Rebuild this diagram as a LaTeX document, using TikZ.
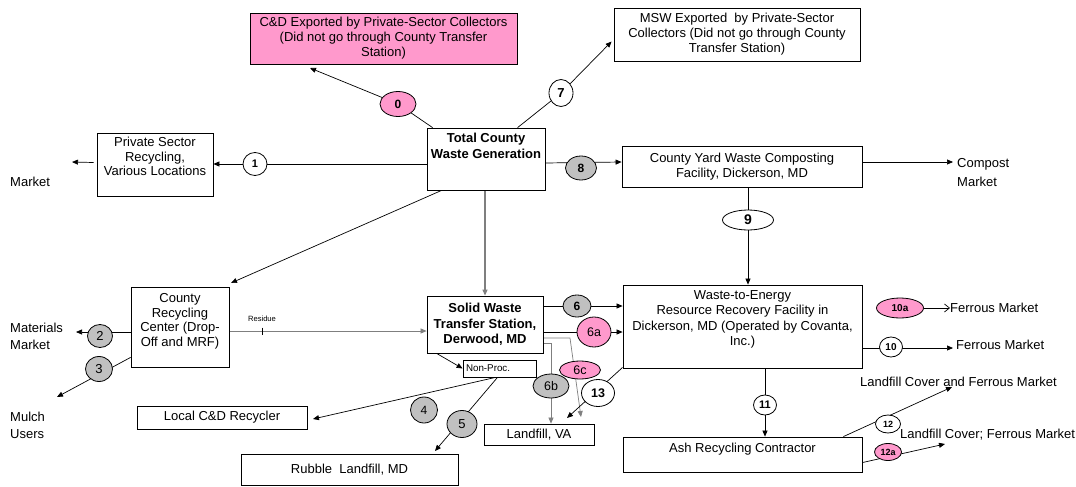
\documentclass[tikz,border=0pt]{standalone}
\usepackage{fontspec}
\setmainfont{Liberation Sans}
\usetikzlibrary{arrows.meta,calc,shapes.geometric}
\pgfdeclarelayer{bg}
\pgfsetlayers{bg,main}
\definecolor{pinkf}{HTML}{FF99CC}
\definecolor{grayf}{HTML}{C0C0C0}
\definecolor{lineg}{HTML}{7F7F7F}
\begin{document}
\begin{tikzpicture}[x=1pt,y=-1pt,
  every node/.style={font=\fontsize{13}{15}\selectfont},
  box/.style={draw,line width=0.8pt,fill=white,inner sep=0pt,align=center},
  txt/.style={inner sep=0pt,align=center},
  ltxt/.style={inner sep=0pt,align=left},
  num/.style={ellipse,draw,line width=0.8pt,fill=white,inner sep=0pt},
  arr/.style={line width=0.7pt,-{Triangle[length=6pt,width=5pt]}},
  ln/.style={line width=0.7pt},
  barb/.style={line width=0.7pt,-{Straight Barb[length=5pt,width=8pt]}},
]
\useasboundingbox (0,0) rectangle (1076,487);

% ---------- boxes ----------
\node[box,fill=pinkf,minimum width=267,minimum height=51] (cd) at (383.5,38.5)
  {C\&D Exported by Private-Sector Collectors\\(Did not go through County Transfer\\Station)};
\node[box,minimum width=246,minimum height=53] (msw) at (737,34.5)
  {MSW Exported\ \ by Private-Sector\\Collectors (Did not go through County\\Transfer Station)};
\node[box,minimum width=118,minimum height=62] (tot) at (486,159) {};
\node[txt,anchor=north,font=\bfseries\fontsize{13}{16}\selectfont] (tott) at ($(tot.north)+(0,5)$)
  {Total County\\Waste Generation};
\node[box,minimum width=116,minimum height=63] (psr) at (155,164.5) {};
\node[txt,anchor=north,font=\fontsize{13}{14.5}\selectfont] (psrt) at ($(psr.north)+(0,4.5)$)
  {Private Sector\\Recycling,\\Various Locations};
\node[box,minimum width=240,minimum height=41] (yard) at (742,166.5)
  {County Yard Waste Composting\\Facility, Dickerson, MD};
\node[box,minimum width=98,minimum height=80] (crc) at (180,327) {};
\node[txt,anchor=north,font=\fontsize{13}{14.7}\selectfont] (crct) at ($(crc.north)+(0,6.5)$)
  {County\\Recycling\\Center (Drop-\\Off and MRF)};
\node[box,minimum width=116,minimum height=57,font=\bfseries\fontsize{13}{15.5}\selectfont] (sw) at (485,324.5)
  {Solid Waste\\Transfer Station,\\Derwood, MD};
\node[box,minimum width=73,minimum height=17,text width=67,align=left,font=\fontsize{9.8}{11}\selectfont] (np) at (499.5,368.5)
  {Non-Proc.};
\node[box,minimum width=170,minimum height=23] (lcd) at (222,417.5) {Local C\&D Recycler};
\node[box,minimum width=217,minimum height=31] (rub) at (349.5,469.5) {Rubble\ \ Landfill, MD};
\node[box,minimum width=110,minimum height=21] (lva) at (539,434.5) {Landfill, VA};
\node[box,minimum width=239,minimum height=83] (wte) at (742.5,326.5) {};
\node[txt,anchor=north,font=\fontsize{13}{15.5}\selectfont] (wtet) at ($(wte.north)+(0,5.5)$)
  {Waste-to-Energy\\Resource Recovery Facility in\\Dickerson, MD (Operated by Covanta,\\Inc.)};
\node[box,minimum width=239,minimum height=35] (ash) at (742.5,454.5) {};
\node[txt,anchor=north] (asht) at ($(ash.north)+(0,6.5)$) {Ash Recycling Contractor};

% ---------- free texts ----------
\node[ltxt,anchor=west] (mk1) at (10,182) {Market};
\node[ltxt,anchor=west,font=\fontsize{13}{17}\selectfont] (mm) at (10,336) {Materials\\Market};
\node[ltxt,anchor=west,font=\fontsize{13}{17}\selectfont] (mu) at (10,425.5) {Mulch\\Users};
\node[ltxt,anchor=west,font=\fontsize{13}{19}\selectfont] (cm) at (957,172.5) {Compost\\Market};
\node[ltxt,anchor=west] (f10a) at (950,308) {Ferrous Market};
\node[ltxt,anchor=west] (f10) at (956,345) {Ferrous Market};
\node[ltxt,anchor=west] (lc1) at (860,382) {Landfill Cover and Ferrous Market};
\node[ltxt,anchor=west] (lc2) at (900,435) {Landfill Cover; Ferrous Market};
\node[inner sep=0pt,font=\fontsize{7.6}{8}\selectfont] (resl) at (262,319) {Residue};

% ---------- numbered ellipses ----------
\node[num,fill=pinkf,minimum width=36,minimum height=25,font=\bfseries\fontsize{12}{12}\selectfont] (c0) at (398,104) {0};
\node[num,minimum width=24,minimum height=27,font=\bfseries\fontsize{13}{13}\selectfont] (c7) at (561,93) {7};
\node[num,minimum width=24,minimum height=23,font=\bfseries\fontsize{11}{11}\selectfont] (c1) at (255,164) {1};
\node[num,fill=grayf,minimum width=31,minimum height=24,font=\bfseries\fontsize{12}{12}\selectfont] (c8) at (581,168) {8};
\node[num,minimum width=51,minimum height=20,font=\bfseries\fontsize{14}{14}\selectfont] (c9) at (748,220) {9};
\node[num,fill=grayf,minimum width=25,minimum height=23,font=\fontsize{13}{13}\selectfont] (c2) at (100,336) {2};
\node[num,fill=grayf,minimum width=27,minimum height=25,font=\fontsize{13}{13}\selectfont] (c3) at (99,369) {3};
\node[num,fill=grayf,minimum width=27,minimum height=26,font=\fontsize{12}{12}\selectfont] (c4) at (424,410) {4};
\node[num,fill=grayf,minimum width=30,minimum height=27,font=\fontsize{13}{13}\selectfont] (c5) at (462,424) {5};
\node[num,fill=grayf,minimum width=28,minimum height=22,font=\bfseries\fontsize{12}{12}\selectfont] (c6) at (577,306) {6};
\node[num,fill=pinkf,minimum width=34,minimum height=30,font=\fontsize{12.5}{12.5}\selectfont] (c6a) at (594,332) {6a};
\node[num,fill=grayf,minimum width=36,minimum height=24,font=\fontsize{12.5}{12.5}\selectfont] (c6b) at (551,386) {6b};
\node[num,fill=pinkf,minimum width=41,minimum height=18,font=\fontsize{12.5}{12.5}\selectfont] (c6c) at (580,370) {6c};
\node[num,minimum width=33,minimum height=27,font=\bfseries\fontsize{12.5}{12.5}\selectfont] (c13) at (598,393) {13};
\node[num,fill=pinkf,minimum width=47,minimum height=20,font=\bfseries\fontsize{10}{10}\selectfont] (c10a) at (900,308) {10a};
\node[num,minimum width=23,minimum height=20,font=\bfseries\fontsize{10}{10}\selectfont] (c10) at (891,347) {10};
\node[num,minimum width=23,minimum height=20,font=\bfseries\fontsize{11}{11}\selectfont] (c11) at (765,405) {11};
\node[num,minimum width=25,minimum height=18,font=\bfseries\fontsize{9}{9}\selectfont] (c12) at (888,424) {12};
\node[num,fill=pinkf,minimum width=27,minimum height=17,font=\bfseries\fontsize{9}{9}\selectfont] (c12a) at (888,452) {12a};

% ---------- connectors ----------
\begin{pgfonlayer}{bg}
\fill[white] (0,0) rectangle (1076,487);
\coordinate (e0) at (310,68);
\draw[arr] ($(tot.north west)+(6,0)$) -- (c0) -- (e0);
\coordinate (e7) at ($(msw.west)+(-2,7)$);
\draw[arr] ($(tot.north west)+(91,0)$) -- (c7) -- (e7);
\draw[arr] (tot.west |- c1) -- (c1) -- (psr.east |- c1);
\coordinate (e1m) at (72,162);
\draw[arr] ($(psr.west)+(-3,-2)$) -- (e1m);
\draw[arr] ($(tot.east)+(0,4)$) -- ($(yard.west)+(0,-4.5)$);
\coordinate (ecm) at (953,162);
\draw[arr] (yard.east |- ecm) -- (ecm);
\draw[arr] (c9 |- yard.south) -- (c9) -- (c9 |- wte.north);
\draw[arr,draw=lineg,line width=1.1pt] (sw.north |- tot.south) -- (sw.north);
\coordinate (ecrc) at (231,283);
\draw[arr] ($(tot.south west)+(15,0)$) -- (ecrc);
\coordinate (rt) at (262,331);
\draw[arr,draw=lineg] (crc.east |- rt) -- (sw.west |- rt);
\draw[ln] ($(rt)+(0,-3.5)$) -- ($(rt)+(0,3.5)$);
\coordinate (e2) at (76,332);
\draw[arr] (crc.west |- e2) -- (e2);
\coordinate (e3) at (57,397);
\draw[arr] ($(crc.south west)+(0,-10)$) -- (e3);
\draw[arr] ($(sw.south west)+(10,0)$) -- (np.west);
\coordinate (e4) at (313,419);
\draw[arr] ($(np.south)+(-4,0)$) -- (e4);
\coordinate (e5) at (435,451);
\draw[arr] ($(np.south)+(-2,0)$) -- (e5);
\draw[arr] (sw.east |- c6) -- (c6) -- (wte.west |- c6);
\draw[arr] (sw.east |- c6a) -- (c6a) -- (wte.west |- c6a);
\coordinate (k6b) at (551,343);
\draw[arr,draw=lineg] (sw.east |- k6b) -- (k6b) -- (k6b |- lva.north);
\coordinate (k6c) at (570,338);
\coordinate (e6c) at (581,417);
\draw[arr,draw=lineg] (sw.east |- k6c) -- (k6c) -- (e6c);
\coordinate (e13) at (567,418);
\draw[arr] ($(wte.south west)+(0,-1)$) -- (e13);
\draw[barb] (c10a) -- (f10a.west);
\coordinate (e10) at (953,348);
\draw[arr] (wte.east |- e10) -- (e10);
\draw[arr] (c11 |- wte.south) -- (c11 |- ash.north);
\coordinate (e12) at (952,387);
\draw[arr] ($(ash.north east)+(-19,0)$) -- (e12);
\coordinate (e12a) at (945,444);
\draw[arr] ($(ash.east)+(-2,8.5)$) -- (e12a);
\end{pgfonlayer}
\end{tikzpicture}
\end{document}
